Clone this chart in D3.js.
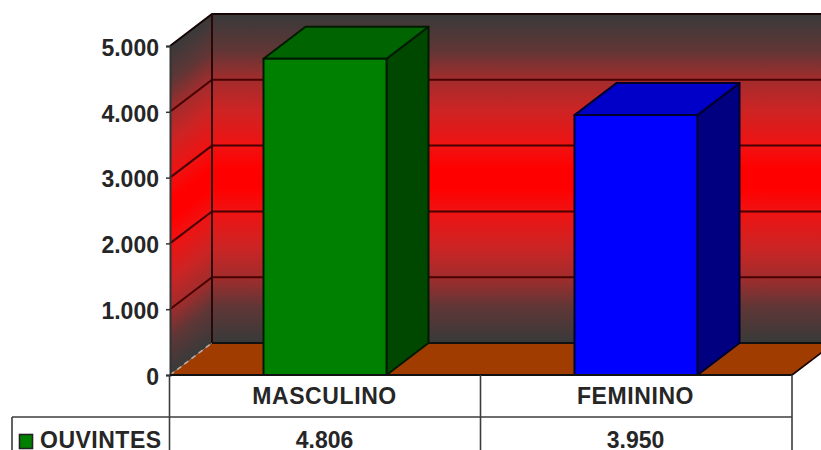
<!DOCTYPE html>
<html>
<head>
<meta charset="utf-8">
<script src="https://cdn.jsdelivr.net/npm/d3@7"></script>
<style>
html,body{margin:0;padding:0;background:#fff;overflow:hidden}
svg{display:block}
text{font-family:"Liberation Sans",Arial,sans-serif;font-weight:bold;fill:#262626}
</style>
</head>
<body>
<svg id="chart" width="821" height="450"></svg>
<script>
const categories = ["MASCULINO", "FEMININO"];
const seriesName = "OUVINTES";
const seriesValues = [4806, 3950];
const valueLabels = ["4.806", "3.950"];
const frontColors = ["#008000", "#0000ff"];
const topColors = ["#006400", "#0000c8"];
const sideColors = ["#004800", "#000080"];
const yTicks = [0, 1000, 2000, 3000, 4000, 5000];

const plot = {left: 170, right: 792, top: 46, bottom: 375};
const depth = {dx: 42, dy: -32};
const table = {left: 12, rowMid: 417, bottom: 470};
const barShare = 123 / 311;

const svg = d3.select("#chart");
const y = d3.scaleLinear().domain([0, 5000]).range([plot.bottom, plot.top]);
const x = d3.scaleBand().domain(categories).range([plot.left, plot.right]);
const barW = x.bandwidth() * barShare;
const fmt = v => d3.format(",")(v).replace(/,/g, ".");
const poly = pts => pts.map(p => p.join(",")).join(" ");
const ink = "#160303";
const gridInk = "#480000";

// Wall gradient: charcoal at both ends, pure red through the middle
const defs = svg.append("defs");
const grad = defs.append("linearGradient").attr("id", "wall")
  .attr("x1", 0).attr("y1", 0).attr("x2", 0).attr("y2", 1);
[[0, "#383a3a"], [0.11, "#603636"], [0.2, "#a32c2c"], [0.29, "#cc2424"], [0.4, "#f01212"],
 [0.47, "#ff0000"], [0.53, "#ff0000"], [0.6, "#f01212"], [0.71, "#cc2424"], [0.8, "#a32c2c"],
 [0.89, "#603636"], [1, "#383a3a"]]
  .forEach(([o, c]) => grad.append("stop").attr("offset", o).attr("stop-color", c));

// Back wall
const backX0 = plot.left + depth.dx, backX1 = plot.right + depth.dx;
svg.append("rect")
  .attr("x", backX0).attr("y", y(5000) + depth.dy)
  .attr("width", backX1 - backX0).attr("height", y(0) - y(5000))
  .attr("fill", "url(#wall)");

// Side wall, sheared along the depth direction
svg.append("rect")
  .attr("x", 0).attr("y", y(5000))
  .attr("width", depth.dx).attr("height", y(0) - y(5000))
  .attr("transform", `matrix(1,${depth.dy / depth.dx},0,1,${plot.left},0)`)
  .attr("fill", "url(#wall)");

// Floor
svg.append("polygon")
  .attr("points", poly([[plot.left, y(0)], [backX0, y(0) + depth.dy], [backX1, y(0) + depth.dy], [plot.right, y(0)]]))
  .attr("fill", "#a03c00");

// Gridlines on both walls
svg.append("g").selectAll("polyline").data(yTicks.filter(d => d > 0 && d < 5000)).join("polyline")
  .attr("points", d => poly([[plot.left, y(d)], [backX0, y(d) + depth.dy], [backX1, y(d) + depth.dy]]))
  .attr("fill", "none").attr("stroke", gridInk).attr("stroke-width", 2);

// Outer wall edges, floor seam and corner
svg.append("polyline")
  .attr("points", poly([[plot.left, y(5000)], [backX0, y(5000) + depth.dy], [backX1, y(5000) + depth.dy]]))
  .attr("fill", "none").attr("stroke", ink).attr("stroke-width", 2);
svg.append("line")
  .attr("x1", backX0).attr("x2", backX1)
  .attr("y1", y(0) + depth.dy).attr("y2", y(0) + depth.dy)
  .attr("stroke", "#111").attr("stroke-width", 2);
svg.append("line")
  .attr("x1", plot.right).attr("x2", backX1)
  .attr("y1", y(0)).attr("y2", y(0) + depth.dy)
  .attr("stroke", ink).attr("stroke-width", 1.6);
svg.append("line")
  .attr("x1", backX0).attr("x2", backX0)
  .attr("y1", y(5000) + depth.dy).attr("y2", y(0) + depth.dy)
  .attr("stroke", "#2a0808").attr("stroke-width", 2);
svg.append("line")
  .attr("x1", plot.left).attr("x2", backX0)
  .attr("y1", y(0)).attr("y2", y(0) + depth.dy)
  .attr("stroke", "#b8b0a8").attr("stroke-width", 1.6).attr("stroke-dasharray", "5 4");

// Bars: side face, top face, front face
const bars = svg.append("g").selectAll("g").data(categories).join("g");
bars.each(function (c, i) {
  const g = d3.select(this);
  const x0 = x(c) + (x.bandwidth() - barW) / 2 - 0.5, x1 = x0 + barW;
  const yt = y(seriesValues[i]), yb = y(0);
  const face = (pts, fill) => g.append("polygon").attr("points", poly(pts)).attr("fill", fill)
    .attr("stroke", i ? "#00002e" : "#001a00").attr("stroke-width", 2).attr("stroke-linejoin", "round");
  face([[x1, yt], [x1 + depth.dx, yt + depth.dy], [x1 + depth.dx, yb + depth.dy], [x1, yb]], sideColors[i]);
  face([[x0, yt], [x0 + depth.dx, yt + depth.dy], [x1 + depth.dx, yt + depth.dy], [x1, yt]], topColors[i]);
  face([[x0, yt], [x1, yt], [x1, yb], [x0, yb]], frontColors[i]);
});

// Value axis
const axis = d3.axisLeft(y).tickValues(yTicks).tickFormat(fmt).tickSize(4).tickPadding(7);
const gAxis = svg.append("g").attr("transform", `translate(${plot.left},0)`).call(axis);
gAxis.select(".domain").attr("stroke", "#333").attr("stroke-width", 2);
gAxis.selectAll(".tick line").attr("stroke", "#333").attr("stroke-width", 1.5);
gAxis.selectAll("text").attr("font-size", 23).attr("dy", "0.4em");

// Data table under the plot
const lines = svg.append("g").attr("stroke", "#3c3c3c").attr("stroke-width", 1.6);
lines.append("line").attr("x1", plot.left).attr("x2", plot.right).attr("y1", plot.bottom).attr("y2", plot.bottom).attr("stroke", "#111").attr("stroke-width", 2);
lines.append("line").attr("x1", table.left).attr("x2", plot.right).attr("y1", table.rowMid).attr("y2", table.rowMid);
lines.append("line").attr("x1", table.left).attr("x2", table.left).attr("y1", table.rowMid).attr("y2", table.bottom);
x.domain().concat(null).forEach(c => {
  const px = c === null ? plot.right : x(c) - 0.5;
  lines.append("line").attr("x1", px).attr("x2", px).attr("y1", plot.bottom).attr("y2", table.bottom);
});

svg.append("g").selectAll("text").data(categories).join("text")
  .attr("x", d => x(d) + x.bandwidth() / 2 - 1).attr("y", 404)
  .attr("text-anchor", "middle").attr("font-size", 23).attr("letter-spacing", 0.6)
  .text(d => d);

svg.append("g").selectAll("text").data(valueLabels).join("text")
  .attr("x", (d, i) => x(categories[i]) + x.bandwidth() / 2 - 1).attr("y", 448)
  .attr("text-anchor", "middle").attr("font-size", 23)
  .text(d => d);

// Legend key and series name
svg.append("rect").attr("x", 19.5).attr("y", 434.5).attr("width", 13).attr("height", 14)
  .attr("fill", frontColors[0]).attr("stroke", "#222").attr("stroke-width", 1.6);
svg.append("text").attr("x", 40).attr("y", 448).attr("font-size", 23).attr("letter-spacing", 0.5).text(seriesName);
</script>
</body>
</html>
